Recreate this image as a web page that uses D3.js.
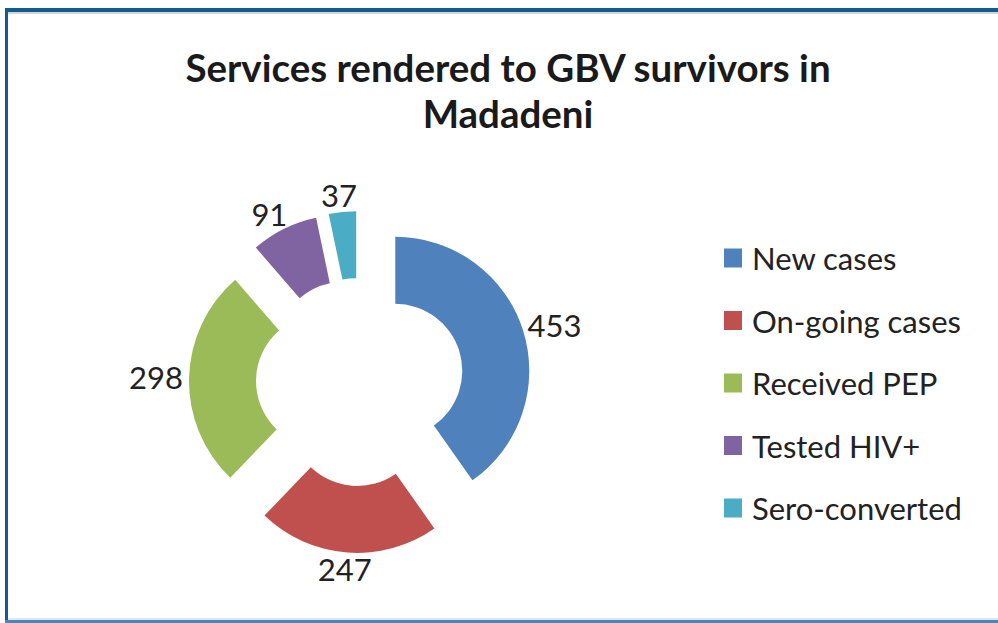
<!DOCTYPE html>
<html>
<head>
<meta charset="utf-8">
<script src="https://cdn.jsdelivr.net/npm/d3@7"></script>
<style>
  body { margin: 0; background: #fff; }
  svg { display: block; }
</style>
</head>
<body>
<svg id="chart"></svg>
<script>
const categories = ["New cases", "On-going cases", "Received PEP", "Tested HIV+", "Sero-converted"]
const values = [453, 247, 298, 91, 37]
const colors = ["#4F81BD", "#C0504D", "#9BBB59", "#8064A2", "#4BACC6"]
const titleLines = ["Services rendered to GBV survivors in", "Madadeni"]

const width = 998
const height = 623
const svg = d3.select("#chart")
  .attr("width", width)
  .attr("height", height)

// frame
svg.append("rect").attr("width", width).attr("height", height).attr("fill", "#fff")
svg.append("line").attr("x1", 5).attr("x2", width).attr("y1", 13).attr("y2", 13)
  .attr("stroke", "#d4d4d4").attr("stroke-width", 2)
svg.append("line").attr("x1", 5).attr("x2", width).attr("y1", 10).attr("y2", 10)
  .attr("stroke", "#125b92").attr("stroke-width", 4)
svg.append("line").attr("x1", 6.5).attr("x2", 6.5).attr("y1", 8).attr("y2", height)
  .attr("stroke", "#125b92").attr("stroke-width", 3)
svg.append("line").attr("x1", 8).attr("x2", width).attr("y1", 619).attr("y2", 619)
  .attr("stroke", "#e6e6e6").attr("stroke-width", 2)
svg.append("line").attr("x1", 5).attr("x2", width).attr("y1", 621.5).attr("y2", 621.5)
  .attr("stroke", "#4a86bb").attr("stroke-width", 3)

// title
svg.append("text")
  .attr("x", 508)
  .attr("y", 82)
  .attr("text-anchor", "middle")
  .attr("font-family", "Lato, 'Open Sans', sans-serif")
  .attr("font-weight", "bold")
  .attr("font-size", 38.5)
  .attr("fill", "#1a1a1a")
  .selectAll("tspan")
  .data(titleLines)
  .join("tspan")
  .attr("x", 508)
  .attr("dy", (d, i) => i === 0 ? 0 : 46)
  .text(d => d)

// donut
const cx = 360, cy = 382
const outerR = 134, innerR = 67, explode = 37

const pie = d3.pie().sort(null).value(d => d)
const arcs = pie(values)
const arc = d3.arc().innerRadius(innerR).outerRadius(outerR)

const g = svg.append("g").attr("transform", `translate(${cx},${cy})`)

function dir(d) {
  const a = (d.startAngle + d.endAngle) / 2
  return [Math.sin(a), -Math.cos(a)]
}

g.selectAll("path")
  .data(arcs)
  .join("path")
  .attr("d", arc)
  .attr("fill", (d, i) => colors[i])
  .attr("transform", d => {
    const [ux, uy] = dir(d)
    return `translate(${ux * explode},${uy * explode})`
  })

// labels
g.selectAll("text.val")
  .data(arcs)
  .join("text")
  .attr("class", "val")
  .attr("font-family", "Lato, 'Open Sans', sans-serif")
  .attr("font-size", 31)
  .attr("fill", "#222")
  .attr("text-anchor", "middle")
  .attr("dominant-baseline", "central")
  .attr("x", d => {
    const [ux] = dir(d)
    return ux * (explode + outerR + 4) + ux * 29
  })
  .attr("y", d => {
    const [, uy] = dir(d)
    return uy * (explode + outerR + 4) + uy * 13
  })
  .text(d => d.data)

// legend
const legend = svg.append("g").attr("transform", "translate(724,258)")
const rows = legend.selectAll("g")
  .data(categories)
  .join("g")
  .attr("transform", (d, i) => `translate(0,${i * 62.5})`)
rows.append("rect")
  .attr("x", 0).attr("y", -9.5)
  .attr("width", 18).attr("height", 19)
  .attr("fill", (d, i) => colors[i])
rows.append("text")
  .attr("x", 28)
  .attr("y", 0)
  .attr("dominant-baseline", "central")
  .attr("font-family", "Lato, 'Open Sans', sans-serif")
  .attr("font-size", 31)
  .attr("fill", "#222")
  .text(d => d)
</script>
</body>
</html>
